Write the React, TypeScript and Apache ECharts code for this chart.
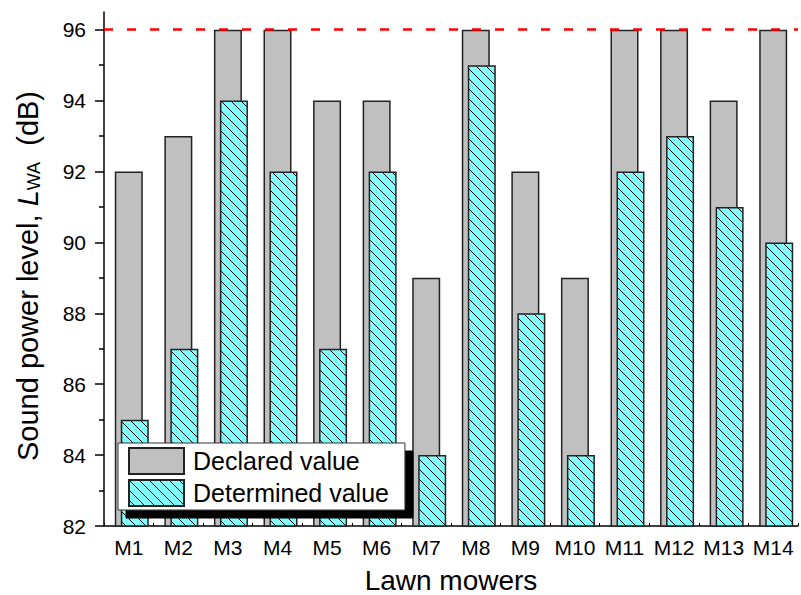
import React, { useEffect, useRef } from "react";
import * as echarts from "echarts";

const categories = ["M1", "M2", "M3", "M4", "M5", "M6", "M7", "M8", "M9", "M10", "M11", "M12", "M13", "M14"];
const declared = [92, 93, 96, 96, 94, 94, 89, 96, 92, 89, 96, 96, 94, 96];
const determined = [85, 87, 94, 92, 87, 92, 84, 95, 88, 84, 92, 93, 91, 90];
const yMajorTicks = [82, 84, 86, 88, 90, 92, 94, 96];
const yMinorTicks = [83, 85, 87, 89, 91, 93, 95];
const limitValue = 96;
const seriesNames = ["Declared value", "Determined value"];

const FONT = 'Arial, "Liberation Sans", Helvetica, sans-serif';

function makeHatch(): HTMLCanvasElement {
  const size = 10;
  const c = document.createElement("canvas");
  c.width = size;
  c.height = size;
  const ctx = c.getContext("2d")!;
  ctx.fillStyle = "#80FFFF";
  ctx.fillRect(0, 0, size, size);
  ctx.strokeStyle = "#000";
  ctx.lineWidth = 1;
  ctx.beginPath();
  ctx.moveTo(-2, -2);
  ctx.lineTo(size + 2, size + 2);
  ctx.stroke();
  return c;
}

export default function App() {
  const ref = useRef<HTMLDivElement>(null);
  useEffect(() => {
    if (!ref.current) return;
    const chart = echarts.init(ref.current, undefined, { renderer: "svg" });
    const hatch = { image: makeHatch(), repeat: "repeat" };
    const option: any = {
      animation: false,
      textStyle: { fontFamily: FONT },
      grid: [
        { left: 104, top: 12, width: 694, height: 514, outerBoundsMode: "none", containLabel: false },
        { left: 110, top: 12, width: 694, height: 514, outerBoundsMode: "none", containLabel: false },
      ],
      legend: {
        data: seriesNames,
        left: 118,
        top: 443,
        orient: "vertical",
        icon: "rect",
        itemWidth: 55,
        itemHeight: 26,
        itemGap: 4,
        padding: [4, 16, 3, 10],
        backgroundColor: "#fff",
        borderColor: "#333",
        borderWidth: 1,
        shadowColor: "#000",
        shadowBlur: 0,
        shadowOffsetX: 8,
        shadowOffsetY: 8,
        selectedMode: false,
        textStyle: { fontSize: 25, color: "#000", fontFamily: FONT, padding: [0, 0, 0, 4] },
      },
      xAxis: [
        {
          type: "category",
          gridIndex: 0,
          data: categories,
          axisLine: { lineStyle: { color: "#000", width: 1.5 } },
          axisTick: { show: true, inside: true, length: 3, alignWithLabel: false, lineStyle: { color: "#000", width: 1 } },
          axisLabel: { interval: 0, color: "#000", fontSize: 21, margin: 11, fontFamily: FONT },
          name: "Lawn mowers",
          nameLocation: "middle",
          nameGap: 40,
          nameTextStyle: { fontSize: 28, lineHeight: 28, color: "#000", fontFamily: FONT },
        },
        { type: "category", gridIndex: 1, data: categories, show: false },
      ],
      yAxis: [
        {
          type: "value",
          gridIndex: 0,
          min: 82,
          max: 96.5,
          splitLine: { show: false },
          axisLine: { show: true, lineStyle: { color: "#000", width: 1.5 } },
          axisTick: { show: true, length: 9, customValues: yMajorTicks, lineStyle: { color: "#000", width: 1.5 } },
          axisLabel: { customValues: yMajorTicks, color: "#000", fontSize: 21, margin: 18, fontFamily: FONT },
        },
        {
          type: "value",
          gridIndex: 0,
          min: 82,
          max: 96.5,
          position: "left",
          splitLine: { show: false },
          axisLine: { show: false },
          axisLabel: { show: false },
          axisTick: { show: true, length: 5, customValues: yMinorTicks, lineStyle: { color: "#000", width: 1.5 } },
        },
        { type: "value", gridIndex: 1, min: 82, max: 96.5, show: false },
      ],
      series: [
        {
          name: seriesNames[0],
          type: "bar",
          xAxisIndex: 0,
          yAxisIndex: 0,
          data: declared,
          barWidth: 28,
          z: 2,
          itemStyle: { color: "#C0C0C0", borderColor: "#222", borderWidth: 1.5 },
          markLine: {
            silent: true,
            symbol: ["none", "none"],
            label: { show: false },
            lineStyle: { color: "#FF0000", type: [9, 14], width: 2.5 },
            data: [{ yAxis: limitValue }],
            z: 5,
          },
        },
        {
          name: seriesNames[1],
          type: "bar",
          xAxisIndex: 1,
          yAxisIndex: 2,
          data: determined,
          barWidth: 28,
          z: 3,
          itemStyle: { color: hatch, borderColor: "#222", borderWidth: 1.5 },
        },
      ],
      graphic: [
        {
          type: "text",
          x: 28,
          y: 276,
          rotation: Math.PI / 2,
          style: {
            text: "{n|Sound power level, }{i|L}{s|WA}{n|  (dB)}",
            align: "center",
            verticalAlign: "middle",
            fill: "#000",
            rich: {
              n: { fontSize: 29, fontFamily: FONT, fill: "#000", lineHeight: 30 },
              i: { fontSize: 29, fontFamily: FONT, fontStyle: "italic", fill: "#000", lineHeight: 30 },
              s: { fontSize: 18, fontFamily: FONT, fill: "#000", lineHeight: 14, verticalAlign: "bottom" },
            },
          },
        },
      ],
    };
    chart.setOption(option);
    return () => chart.dispose();
  }, []);
  return <div ref={ref} style={{ position: "absolute", left: 0, top: 0, width: 801, height: 595 }} />;
}
